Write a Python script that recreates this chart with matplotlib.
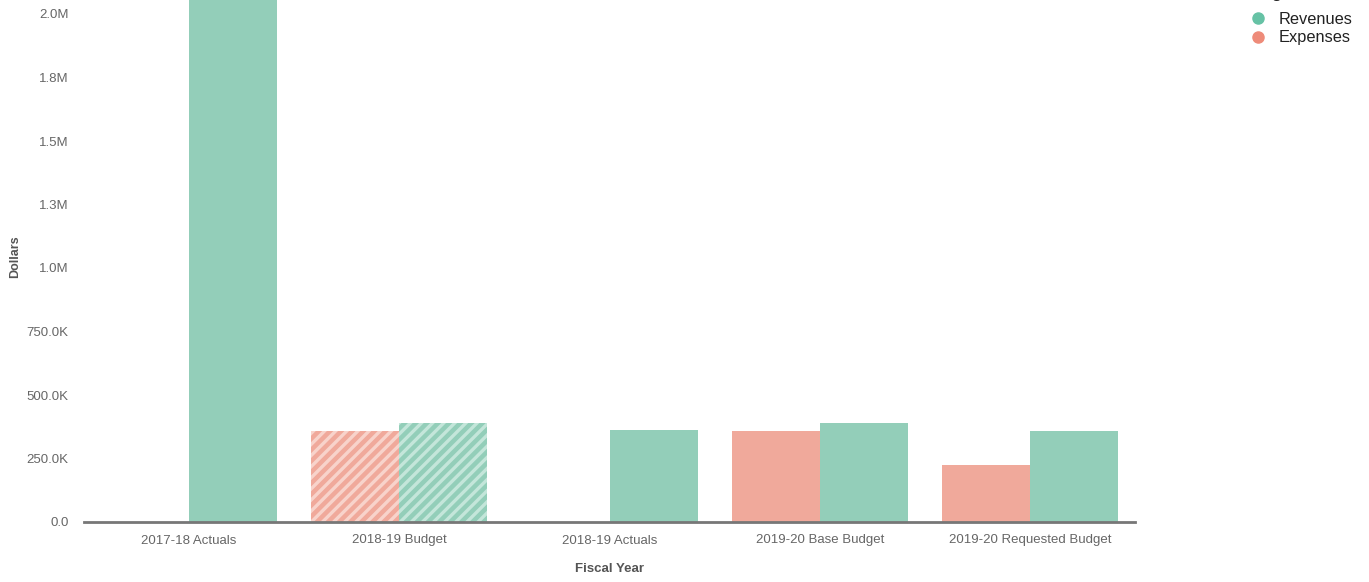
import numpy as np
import matplotlib
matplotlib.use("Agg")
import matplotlib.pyplot as plt
from matplotlib.lines import Line2D

plt.rcParams['font.family'] = ['Liberation Sans', 'DejaVu Sans']
plt.rcParams['hatch.linewidth'] = 2.4

# fiscal year categories and amounts (dollars)
years = ['2017-18 Actuals', '2018-19 Budget', '2018-19 Actuals',
         '2019-20 Base Budget', '2019-20 Requested Budget']
expenses = [np.nan, 359000, np.nan, 359000, 224000]
revenues = [2350000, 391000, 362000, 391000, 359000]
hatched = [False, True, False, False, False]

yticks = [0, 250000, 500000, 750000, 1000000, 1250000, 1500000, 1750000, 2000000]
ytick_labels = ['0.0', '250.0K', '500.0K', '750.0K', '1.0M', '1.3M', '1.5M', '1.8M', '2.0M']

rev_bar, rev_stripe, rev_dot = '#93ceb9', '#c4e6da', '#66c2a5'
exp_bar, exp_stripe, exp_dot = '#f0a99b', '#f8d3cb', '#ee8b79'

fig = plt.figure(figsize=(13.69, 5.82), dpi=100)
ax = fig.add_axes([84 / 1369, 60 / 582, (1135 - 84) / 1369, 522 / 582])

x = np.arange(len(years))
w = 88 / 210
for i in range(len(years)):
    h = '///' if hatched[i] else None
    if not np.isnan(expenses[i]):
        ax.bar(x[i] - w / 2, expenses[i], w, color=exp_bar,
               edgecolor=exp_stripe if hatched[i] else exp_bar,
               linewidth=0, hatch=h)
    ax.bar(x[i] + w / 2, revenues[i], w, color=rev_bar,
           edgecolor=rev_stripe if hatched[i] else rev_bar,
           linewidth=0, hatch=h)

ax.set_xlim(-0.5, len(years) - 0.5)
ax.set_ylim(0, 522 / 254 * 1e6)
ax.set_xticks(x)
ax.set_xticklabels(years)
ax.set_yticks(yticks)
ax.set_yticklabels(ytick_labels)
ax.tick_params(axis='both', length=0, labelsize=9.5, labelcolor='#666666')
ax.tick_params(axis='y', pad=11)
ax.tick_params(axis='x', pad=9)

for s in ['top', 'right', 'left']:
    ax.spines[s].set_visible(False)
ax.spines['bottom'].set_color('#777777')
ax.spines['bottom'].set_linewidth(2)

ax.set_xlabel('Fiscal Year', fontsize=9.5, fontweight='bold', color='#555555', labelpad=12)
fig.text(15 / 1369, 1 - 257 / 582, 'Dollars', rotation=90, fontsize=9,
         fontweight='bold', color='#555555', ha='center', va='center')

handles = [Line2D([], [], marker='o', linestyle='none', markersize=8,
                  markerfacecolor=rev_dot, markeredgecolor=rev_dot),
           Line2D([], [], marker='o', linestyle='none', markersize=8,
                  markerfacecolor=exp_dot, markeredgecolor=exp_dot)]
leg = fig.legend(handles, ['Revenues', 'Expenses'],
                 loc='upper left', bbox_to_anchor=(1242 / 1369, 1 - 4 / 582),
                 frameon=False, fontsize=11.8, handletextpad=0.75,
                 labelspacing=0.2, handlelength=1.0, borderpad=0)
for t in leg.get_texts():
    t.set_color('#222222')
# legend heading sits above the top edge
fig.text(1254 / 1369, 1 + 2 / 582, 'Legend', fontsize=11.8, fontweight='bold',
         color='#222222', ha='left', va='baseline')

fig.savefig('out.png', dpi=100)
